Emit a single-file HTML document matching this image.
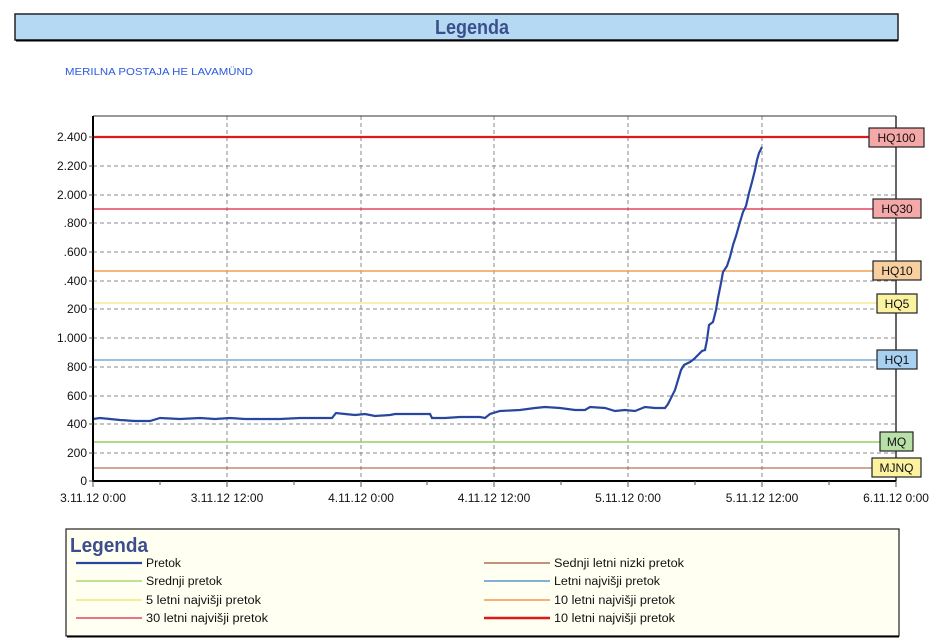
<!DOCTYPE html>
<html><head><meta charset="utf-8"><style>
html,body{margin:0;padding:0;background:#fff;width:943px;height:640px;overflow:hidden}
svg{display:block}
text{font-family:"Liberation Sans Narrow","Liberation Sans",sans-serif}
</style></head><body>
<svg width="943" height="640" viewBox="0 0 943 640" xmlns="http://www.w3.org/2000/svg">
<rect x="15" y="14" width="883" height="26" fill="#b5d9f3" stroke="#222" stroke-width="1.5"/>
<line x1="16" y1="40.5" x2="898" y2="40.5" stroke="#000" stroke-width="2"/>
<text x="435" y="34" font-size="20" font-weight="bold" fill="#3c4f8c" textLength="74" lengthAdjust="spacingAndGlyphs">Legenda</text>
<text x="65" y="75" font-size="10.5" fill="#2a5be0" textLength="188" lengthAdjust="spacingAndGlyphs">MERILNA POSTAJA HE LAVAMÜND</text>
<g stroke="#888" stroke-dasharray="4,3" stroke-width="1">
<line x1="93" x2="896" y1="453" y2="453"/><line x1="93" x2="896" y1="424" y2="424"/><line x1="93" x2="896" y1="396" y2="396"/><line x1="93" x2="896" y1="367" y2="367"/><line x1="93" x2="896" y1="338" y2="338"/><line x1="93" x2="896" y1="309" y2="309"/><line x1="93" x2="896" y1="281" y2="281"/><line x1="93" x2="896" y1="252" y2="252"/><line x1="93" x2="896" y1="223" y2="223"/><line x1="93" x2="896" y1="195" y2="195"/><line x1="93" x2="896" y1="166" y2="166"/>
<line x1="227" x2="227" y1="116" y2="481"/><line x1="361" x2="361" y1="116" y2="481"/><line x1="494" x2="494" y1="116" y2="481"/><line x1="628" x2="628" y1="116" y2="481"/><line x1="762" x2="762" y1="116" y2="481"/>
</g>
<line x1="93" x2="896" y1="116" y2="116" stroke="#333"/>
<line x1="896" x2="896" y1="116" y2="481" stroke="#333" stroke-width="1.5"/>
<line x1="93" x2="896" y1="468" y2="468" stroke="#a0522d" stroke-width="1"/>
<line x1="93" x2="896" y1="442" y2="442" stroke="#9acd5a" stroke-width="1.5"/>
<line x1="93" x2="896" y1="360" y2="360" stroke="#3a7fc8" stroke-width="1"/>
<line x1="93" x2="896" y1="303" y2="303" stroke="#f0e060" stroke-width="1"/>
<line x1="93" x2="896" y1="271" y2="271" stroke="#f0a050" stroke-width="1.5"/>
<line x1="93" x2="896" y1="209" y2="209" stroke="#e02040" stroke-width="1.2"/>
<line x1="93" x2="896" y1="137" y2="137" stroke="#e01818" stroke-width="2.2"/>
<polyline fill="none" stroke="#2846a0" stroke-width="2.2" points="93,419 100,418 110,419 120,420 135,421 150,421 160,418 180,419 200,418 215,419 230,418 245,419 260,419 280,419 300,418 332,418 336,413 345,414 355,415 365,414 375,416 390,415 395,414 410,414 430,414 432,418 445,418 460,417 480,417 485,418 490,414 500,411 520,410 535,408 545,407 560,408 575,410 585,410 590,407 605,408 615,411 625,410 635,411 645,407 655,408 665,408 668,404 671,398 675,390 678,380 681,370 684,365 690,362 694,359 698,355 702,351 705,350 707,340 709,325 713,322 716,310 718,298 721,283 723,272 727,266 730,257 733,245 736,236 740,222 743,212 746,206 749,193 752,182 755,170 757,160 759,153 762,147"/>
<line x1="93" x2="93" y1="116" y2="482" stroke="#000" stroke-width="2"/>
<line x1="92" x2="896" y1="481" y2="481" stroke="#000" stroke-width="2"/>
<g stroke="#555">
<line x1="89" x2="93" y1="481" y2="481"/><line x1="89" x2="93" y1="453" y2="453"/><line x1="89" x2="93" y1="424" y2="424"/><line x1="89" x2="93" y1="396" y2="396"/><line x1="89" x2="93" y1="367" y2="367"/><line x1="89" x2="93" y1="338" y2="338"/><line x1="89" x2="93" y1="309" y2="309"/><line x1="89" x2="93" y1="281" y2="281"/><line x1="89" x2="93" y1="252" y2="252"/><line x1="89" x2="93" y1="223" y2="223"/><line x1="89" x2="93" y1="195" y2="195"/><line x1="89" x2="93" y1="166" y2="166"/><line x1="89" x2="93" y1="137" y2="137"/>
<line x1="160" x2="160" y1="481" y2="485"/><line x1="294" x2="294" y1="481" y2="485"/><line x1="427" x2="427" y1="481" y2="485"/><line x1="561" x2="561" y1="481" y2="485"/><line x1="695" x2="695" y1="481" y2="485"/><line x1="829" x2="829" y1="481" y2="485"/>
<line x1="93" x2="93" y1="481" y2="487"/><line x1="227" x2="227" y1="481" y2="487"/><line x1="361" x2="361" y1="481" y2="487"/><line x1="494" x2="494" y1="481" y2="487"/><line x1="628" x2="628" y1="481" y2="487"/><line x1="762" x2="762" y1="481" y2="487"/><line x1="896" x2="896" y1="481" y2="487"/>
</g>
<g font-size="12" fill="#111" text-anchor="end" font-family="Liberation Sans,sans-serif">
<text x="87" y="485">0</text><text x="87" y="457">200</text><text x="87" y="428">400</text><text x="87" y="400">600</text><text x="87" y="371">800</text><text x="87" y="342">1.000</text><text x="87" y="313">200</text><text x="87" y="285">.400</text><text x="87" y="256">.600</text><text x="87" y="227">.800</text><text x="87" y="199">2.000</text><text x="87" y="170">2.200</text><text x="87" y="141">2.400</text>
</g>
<g font-size="12" fill="#111" text-anchor="middle">
<text x="93" y="502">3.11.12 0:00</text><text x="227" y="502">3.11.12 12:00</text><text x="361" y="502">4.11.12 0:00</text><text x="494" y="502">4.11.12 12:00</text><text x="628" y="502">5.11.12 0:00</text><text x="762" y="502">5.11.12 12:00</text><text x="896" y="502">6.11.12 0:00</text>
</g>
<g font-size="12" text-anchor="middle" stroke-width="1.2" font-family="Liberation Sans,sans-serif">
<rect x="869" y="128" width="55" height="19" fill="#f4a8a8" stroke="#222"/><text x="896.5" y="142" fill="#111">HQ100</text>
<rect x="873" y="199" width="48" height="19" fill="#f4a8a8" stroke="#222"/><text x="897" y="213" fill="#111">HQ30</text>
<rect x="873" y="261" width="48" height="19" fill="#f8d0a0" stroke="#222"/><text x="897" y="275" fill="#111">HQ10</text>
<rect x="877" y="294" width="40" height="19" fill="#fbf3a0" stroke="#222"/><text x="897" y="308" fill="#111">HQ5</text>
<rect x="877" y="350" width="40" height="19" fill="#a8d0f0" stroke="#222"/><text x="897" y="364" fill="#111">HQ1</text>
<rect x="880" y="432" width="33" height="19" fill="#b8e0a8" stroke="#222"/><text x="896.5" y="446" fill="#111">MQ</text>
<rect x="872" y="458" width="49" height="19" fill="#fbf3a0" stroke="#222"/><text x="896.5" y="472" fill="#111">MJNQ</text>
</g>
<rect x="66" y="529" width="833" height="107" fill="#fffff2" stroke="#222" stroke-width="1.2"/>
<line x1="67" y1="636.5" x2="899" y2="636.5" stroke="#000" stroke-width="2"/>
<text x="70" y="552" font-size="20" font-weight="bold" fill="#3c4f8c" textLength="78" lengthAdjust="spacingAndGlyphs">Legenda</text>
<g font-size="11.5" fill="#111">
<line x1="76" x2="142" y1="563" y2="563" stroke="#2846a0" stroke-width="2.2"/><text x="146" y="567" textLength="35" lengthAdjust="spacingAndGlyphs">Pretok</text>
<line x1="76" x2="142" y1="581" y2="581" stroke="#9acd5a" stroke-width="1.2"/><text x="146" y="585" textLength="76" lengthAdjust="spacingAndGlyphs">Srednji pretok</text>
<line x1="76" x2="142" y1="600" y2="600" stroke="#f0e060" stroke-width="1.2"/><text x="146" y="604" textLength="115" lengthAdjust="spacingAndGlyphs">5 letni najvišji pretok</text>
<line x1="76" x2="142" y1="618" y2="618" stroke="#e02040" stroke-width="1.2"/><text x="146" y="622" textLength="122" lengthAdjust="spacingAndGlyphs">30 letni najvišji pretok</text>
<line x1="484" x2="550" y1="563" y2="563" stroke="#a0522d" stroke-width="1.2"/><text x="554" y="567" textLength="130" lengthAdjust="spacingAndGlyphs">Sednji letni nizki pretok</text>
<line x1="484" x2="550" y1="581" y2="581" stroke="#3a7fc8" stroke-width="1.2"/><text x="554" y="585" textLength="106" lengthAdjust="spacingAndGlyphs">Letni najvišji pretok</text>
<line x1="484" x2="550" y1="600" y2="600" stroke="#f08030" stroke-width="1.2"/><text x="554" y="604" textLength="121" lengthAdjust="spacingAndGlyphs">10 letni najvišji pretok</text>
<line x1="484" x2="550" y1="618" y2="618" stroke="#e01818" stroke-width="2.5"/><text x="554" y="622" textLength="121" lengthAdjust="spacingAndGlyphs">10 letni najvišji pretok</text>
</g>
</svg>
</body></html>
